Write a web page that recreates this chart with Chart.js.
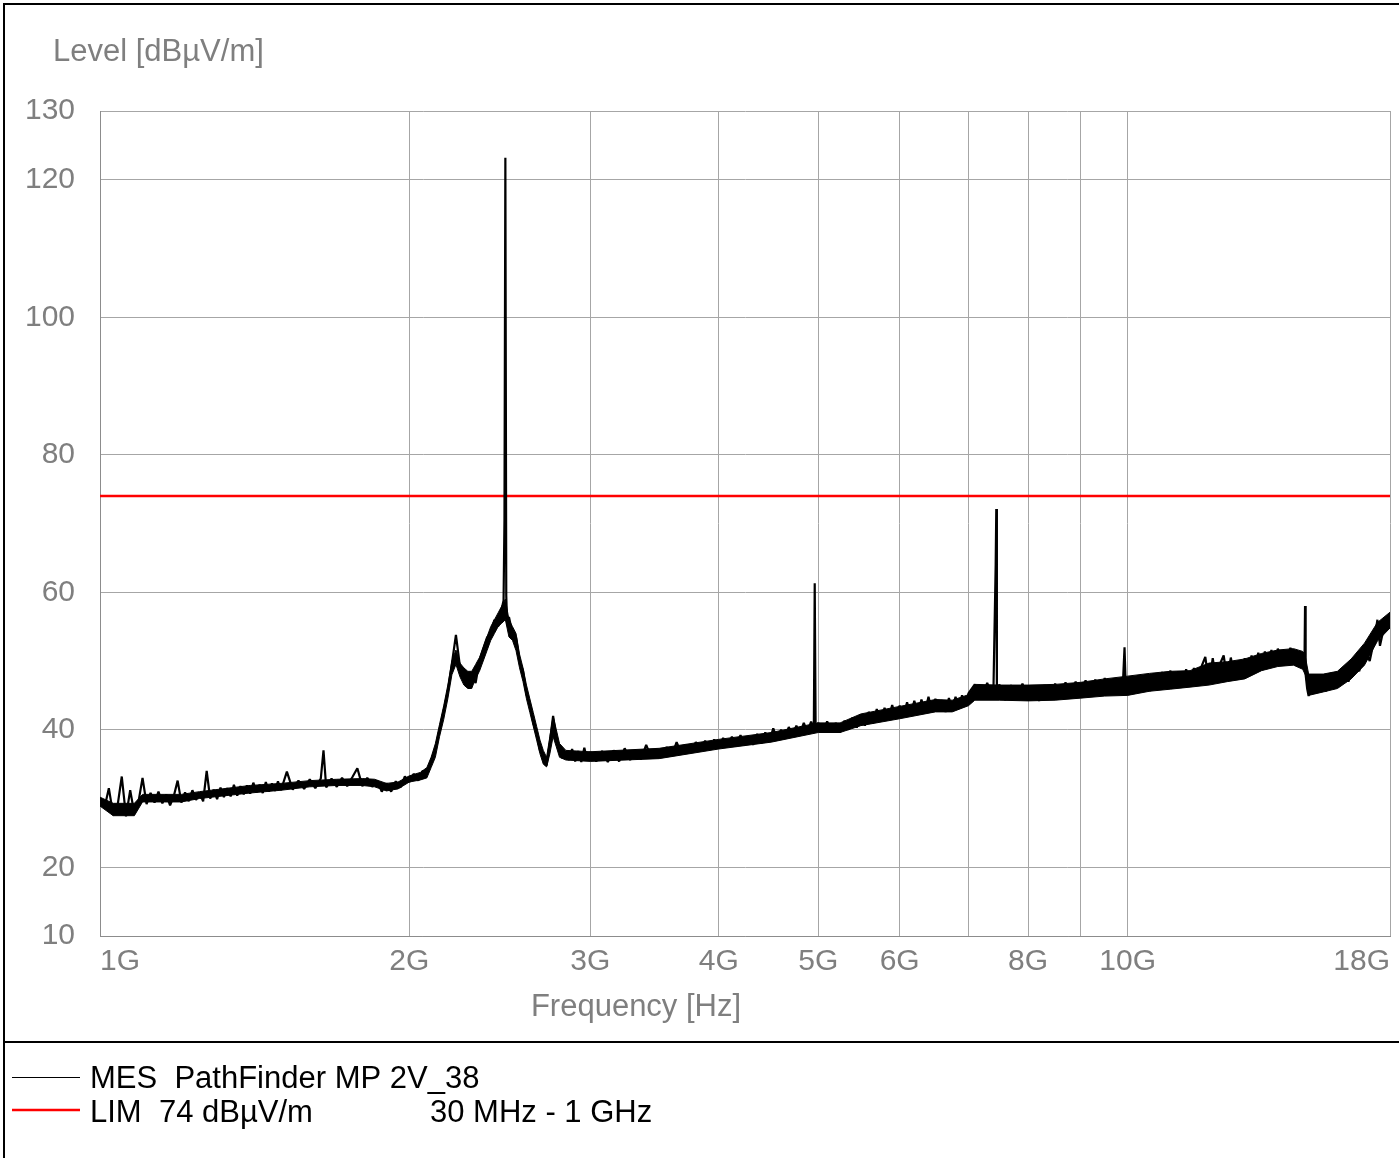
<!DOCTYPE html>
<html>
<head>
<meta charset="utf-8">
<script src="https://cdn.jsdelivr.net/npm/chart.js@4.4.1/dist/chart.umd.min.js"></script>
<style>
  html, body { margin: 0; padding: 0; background: #fff; }
  canvas { display: block; }
</style>
</head>
<body>
<canvas id="emcChart" width="1399" height="1158" style="width:1399px;height:1158px"></canvas>
<script>
const freqSeg1 = [1.00, 1.01, 1.02, 1.03, 1.04, 1.05, 1.06, 1.07, 1.08, 1.09,
  1.10, 1.11, 1.12, 1.13, 1.14, 1.15, 1.16, 1.17, 1.18, 1.19,
  1.20, 1.21, 1.22, 1.23, 1.24, 1.25, 1.26, 1.27, 1.28, 1.29,
  1.30, 1.31, 1.32, 1.33, 1.34, 1.35, 1.36, 1.37, 1.38, 1.39,
  1.40, 1.41, 1.42, 1.43, 1.44, 1.45, 1.46, 1.47, 1.48, 1.49, 1.50];
const levelSeg1 = [29.8, 28.6, 31.5, 27.6, 28.9, 33.2, 27.4, 31.2, 27.8, 29.5,
  33.0, 29.2, 30.8, 29.4, 31.0, 29.3, 30.6, 29.0, 30.4, 32.6,
  29.4, 30.9, 29.6, 31.2, 29.8, 30.8, 29.6, 34.0, 30.0, 31.3,
  29.9, 31.6, 30.2, 31.5, 30.3, 32.0, 30.4, 31.8, 30.6, 31.9,
  30.7, 32.3, 30.9, 32.0, 30.8, 32.4, 31.0, 32.2, 31.1, 32.5, 31.2];

const freqSeg2 = [1.52, 1.54, 1.56, 1.58, 1.60, 1.62, 1.64, 1.65, 1.66, 1.68,
  1.70, 1.72, 1.74, 1.76, 1.78, 1.80, 1.82, 1.84, 1.86, 1.88,
  1.90, 1.92, 1.94, 1.96, 1.98, 2.00];
const levelSeg2 = [33.9, 31.3, 32.6, 31.4, 32.8, 31.5, 32.9, 37.0, 31.6, 32.9,
  31.7, 33.0, 31.8, 33.1, 34.4, 31.8, 33.0, 31.7, 32.6, 31.0,
  32.2, 31.0, 32.5, 31.6, 33.2, 32.4];

const freqSeg3 = [2.02, 2.04, 2.06, 2.08, 2.10, 2.12, 2.14, 2.16, 2.18, 2.20,
  2.22, 2.24, 2.26, 2.28, 2.30, 2.32, 2.34, 2.36, 2.38, 2.40,
  2.42, 2.44, 2.46, 2.47, 2.475, 2.48, 2.485, 2.49, 2.50, 2.52,
  2.54, 2.56, 2.58, 2.60, 2.62, 2.64, 2.66, 2.68, 2.70, 2.72,
  2.74, 2.76, 2.78, 2.80, 2.82, 2.84, 2.86, 2.88, 2.90, 2.92,
  2.94, 2.96, 2.98, 3.00];
const levelSeg3 = [33.6, 32.6, 34.0, 33.8, 35.6, 37.2, 40.0, 42.8, 45.6, 49.6,
  53.8, 49.2, 48.8, 46.2, 47.8, 46.8, 50.0, 51.8, 53.4, 54.2,
  56.0, 55.0, 57.6, 58.8, 70.5, 123.2, 59.5, 55.2, 56.4, 54.0,
  53.4, 50.0, 48.6, 45.2, 43.6, 41.0, 39.4, 37.0, 36.2, 34.8,
  38.2, 42.0, 38.8, 37.6, 35.8, 36.8, 35.6, 37.2, 35.4, 36.9,
  35.3, 37.4, 35.5, 36.8];

const freqSeg4 = [3.04, 3.08, 3.12, 3.16, 3.20, 3.24, 3.28, 3.32, 3.36, 3.40,
  3.44, 3.48, 3.52, 3.56, 3.60, 3.64, 3.68, 3.72, 3.76, 3.80,
  3.84, 3.88, 3.92, 3.96, 4.00, 4.04, 4.08, 4.12, 4.16, 4.20,
  4.24, 4.28, 4.32, 4.36, 4.40, 4.44, 4.48, 4.52, 4.56, 4.60,
  4.64, 4.68, 4.72, 4.76, 4.80, 4.84, 4.88, 4.92, 4.95, 4.96,
  4.97, 5.00];
const levelSeg4 = [35.4, 36.9, 35.3, 37.0, 35.4, 37.3, 35.6, 36.8, 35.7, 37.8,
  35.9, 37.2, 36.0, 37.5, 36.2, 38.2, 36.5, 37.8, 36.7, 38.2,
  36.9, 38.4, 37.1, 38.6, 37.3, 38.8, 37.5, 39.0, 37.6, 39.2,
  37.7, 39.0, 37.8, 39.4, 38.0, 39.6, 38.3, 40.2, 38.6, 40.0,
  38.8, 40.4, 39.1, 40.6, 39.4, 41.0, 39.7, 41.2, 40.0, 61.3,
  40.4, 41.0];

const freqSeg5 = [5.05, 5.10, 5.15, 5.20, 5.25, 5.30, 5.35, 5.40, 5.45, 5.50,
  5.55, 5.60, 5.65, 5.70, 5.75, 5.80, 5.85, 5.90, 5.95, 6.00,
  6.05, 6.10, 6.15, 6.20, 6.25, 6.30, 6.35, 6.40, 6.45, 6.50,
  6.55, 6.60, 6.65, 6.70, 6.75, 6.80, 6.85, 6.90, 6.95, 7.00];
const levelSeg5 = [39.6, 41.2, 39.7, 41.0, 39.6, 41.3, 40.0, 41.8, 40.3, 42.2,
  40.6, 42.6, 40.9, 43.0, 41.2, 43.2, 41.5, 43.6, 41.7, 43.5,
  41.9, 44.0, 42.1, 44.2, 42.3, 44.4, 42.6, 44.8, 42.8, 44.5,
  42.7, 44.3, 42.6, 44.6, 42.9, 44.8, 43.2, 45.0, 43.5, 45.3];

const freqSeg6 = [7.10, 7.20, 7.30, 7.40, 7.44, 7.45, 7.46, 7.50, 7.60, 7.70,
  7.80, 7.90, 8.00, 8.10, 8.20, 8.30, 8.40, 8.50, 8.60, 8.70,
  8.80, 8.90, 9.00, 9.10, 9.20, 9.30, 9.40, 9.50, 9.60, 9.70,
  9.80, 9.90, 9.93, 9.96, 10.00];
const levelSeg6 = [46.6, 44.4, 46.8, 44.5, 64.0, 72.1, 45.0, 46.6, 44.3, 46.5,
  44.4, 46.7, 44.3, 46.3, 44.2, 46.5, 44.4, 46.7, 44.6, 46.9,
  44.8, 47.0, 44.9, 47.2, 45.0, 47.3, 45.2, 47.5, 45.3, 47.4,
  45.4, 47.6, 52.0, 45.5, 47.3];

const freqSeg7 = [10.1, 10.2, 10.3, 10.4, 10.5, 10.6, 10.7, 10.8, 10.9, 11.0,
  11.1, 11.2, 11.3, 11.4, 11.5, 11.6, 11.7, 11.8, 11.9, 12.0,
  12.1, 12.2, 12.3, 12.4, 12.5, 12.6, 12.7, 12.8, 12.9, 13.0,
  13.1, 13.2, 13.3, 13.4, 13.5, 13.6, 13.7, 13.8, 13.9, 14.0];
const levelSeg7 = [45.3, 47.6, 45.5, 48.0, 45.6, 48.2, 45.8, 48.4, 46.0, 48.6,
  46.1, 48.5, 46.2, 48.8, 46.3, 49.0, 46.5, 49.2, 50.6, 46.7,
  50.4, 47.0, 49.6, 50.8, 47.3, 50.5, 47.6, 50.0, 47.9, 50.4,
  48.2, 50.8, 48.6, 51.2, 49.0, 51.4, 49.3, 51.6, 49.4, 51.8];

const freqSeg8 = [14.2, 14.4, 14.6, 14.8, 14.86, 14.88, 14.90, 14.95, 15.0, 15.1,
  15.2, 15.4, 15.6, 15.8, 16.0, 16.2, 16.4, 16.6, 16.8, 17.0,
  17.2, 17.4, 17.5, 17.6, 17.8, 18.0];
const levelSeg8 = [49.5, 51.9, 49.6, 51.3, 49.0, 58.0, 48.0, 46.0, 44.9, 47.6,
  45.3, 47.8, 45.6, 48.3, 46.2, 49.0, 47.0, 50.0, 48.5, 51.8,
  50.0, 53.6, 56.0, 52.2, 55.6, 56.5];

// Dense core of the noisy trace: upper and lower edge
const bandFreq = [1.00, 1.03, 1.08, 1.10, 1.20, 1.25, 1.40, 1.50, 1.60, 1.70,
  1.80, 1.85, 1.90, 1.95, 2.00, 2.05, 2.08, 2.10, 2.12, 2.14,
  2.16, 2.18, 2.20, 2.22, 2.24, 2.26, 2.28, 2.30, 2.32, 2.34,
  2.36, 2.38, 2.40, 2.42, 2.44, 2.46, 2.48, 2.50, 2.52, 2.54,
  2.56, 2.58, 2.60, 2.62, 2.64, 2.66, 2.68, 2.70, 2.72, 2.74,
  2.76, 2.78, 2.80, 2.84, 3.0, 3.5, 4.0, 4.5, 5.0, 5.25,
  5.5, 6.0, 6.5, 6.75, 7.0, 7.1, 7.5, 8.0, 8.5, 9.0,
  9.5, 10, 10.5, 11, 11.5, 12, 12.5, 13, 13.5, 14,
  14.5, 14.8, 14.9, 15.0, 15.5, 16, 16.5, 17, 17.5, 18];
const bandUpper = [30.2, 29.3, 29.3, 30.6, 30.6, 31.0, 31.9, 32.2, 32.6, 32.8,
  32.9, 32.8, 32.2, 32.4, 33.3, 33.8, 34.5, 36.0, 38.0, 40.8,
  43.5, 46.5, 50.0, 51.6, 49.7, 49.0, 48.5, 48.5, 49.5, 50.5,
  52.0, 53.5, 55.0, 56.0, 57.0, 58.0, 59.0, 56.0, 55.0, 54.0,
  51.0, 49.0, 46.5, 44.5, 42.5, 40.5, 38.5, 37.0, 36.0, 39.0,
  42.0, 40.0, 38.0, 37.0, 36.8, 37.3, 38.6, 39.6, 41.0, 41.0,
  42.3, 43.4, 44.4, 44.3, 45.1, 46.6, 46.5, 46.5, 46.6, 46.9,
  47.4, 47.8, 48.2, 48.5, 48.6, 49.7, 49.9, 50.3, 51.1, 51.6,
  51.8, 51.4, 50.4, 48.1, 48.1, 48.5, 50.3, 52.6, 55.6, 57.1];
const bandLower = [28.9, 27.5, 27.5, 29.5, 29.5, 30.0, 30.8, 31.2, 31.7, 31.9,
  31.9, 31.7, 31.1, 31.4, 32.4, 32.7, 33.0, 34.5, 36.0, 39.0,
  41.5, 44.5, 48.0, 49.5, 47.7, 46.5, 46.0, 46.0, 47.5, 48.5,
  50.0, 51.5, 53.0, 54.0, 55.0, 55.5, 56.0, 53.5, 53.0, 51.5,
  49.0, 47.0, 44.5, 42.5, 40.5, 38.5, 36.5, 35.0, 34.6, 36.5,
  39.0, 37.5, 36.0, 35.6, 35.4, 35.8, 37.2, 38.2, 39.6, 39.6,
  40.6, 41.6, 42.6, 42.6, 43.5, 44.3, 44.3, 44.2, 44.3, 44.6,
  44.9, 45.0, 45.6, 45.9, 46.2, 46.5, 47.0, 47.4, 48.6, 49.2,
  49.4, 48.8, 47.9, 45.0, 45.5, 46.0, 47.4, 49.4, 52.9, 54.8];

// Limit line
const limitFreq = [1, 18];
const limitLevel = [74, 74];

// Axis ticks
const xTickValues = [1, 2, 3, 4, 5, 6, 7, 8, 9, 10, 18];
const xTickLabels = ['1G', '2G', '3G', '4G', '5G', '6G', '', '8G', '', '10G', '18G'];
const yTickValues = [10, 20, 40, 60, 80, 100, 120, 130];

const mesFreq = [].concat(freqSeg1, freqSeg2, freqSeg3, freqSeg4, freqSeg5, freqSeg6, freqSeg7, freqSeg8);
const mesLevel = [].concat(levelSeg1, levelSeg2, levelSeg3, levelSeg4, levelSeg5, levelSeg6, levelSeg7, levelSeg8);

const FONT = "'Liberation Sans', Arial, sans-serif";
const GREY_TEXT = '#7f7f7f';

function toPoints(xs, ys) {
    return xs.map((x, i) => ({ x: x, y: ys[i] }));
}

// Frame, titles and legend drawn around the plot
const decorPlugin = {
    id: 'decor',
    afterDraw(chart) {
        const ctx = chart.ctx;
        ctx.save();
        ctx.strokeStyle = '#000';
        ctx.lineWidth = 2;
        ctx.beginPath();
        ctx.moveTo(4, 1158); ctx.lineTo(4, 4); ctx.lineTo(1399, 4);
        ctx.moveTo(4, 1042); ctx.lineTo(1399, 1042);
        ctx.stroke();

        ctx.fillStyle = GREY_TEXT;
        ctx.font = '31px ' + FONT;
        ctx.textBaseline = 'alphabetic';
        ctx.textAlign = 'left';
        ctx.fillText('Level [dBµV/m]', 53, 61);
        ctx.textAlign = 'center';
        ctx.fillText('Frequency [Hz]', 636, 1016);

        // legend
        ctx.lineWidth = 1;
        ctx.strokeStyle = '#000';
        ctx.beginPath(); ctx.moveTo(12, 1077.5); ctx.lineTo(80, 1077.5); ctx.stroke();
        ctx.lineWidth = 2.5;
        ctx.strokeStyle = '#ff0000';
        ctx.beginPath(); ctx.moveTo(12, 1110); ctx.lineTo(80, 1110); ctx.stroke();
        ctx.fillStyle = '#000';
        ctx.textAlign = 'left';
        ctx.fillText(chart.data.datasets[0].label, 90, 1088);
        ctx.fillText(chart.data.datasets[1].label, 90, 1122);
        ctx.fillText('30 MHz - 1 GHz', 430, 1122);
        ctx.restore();
    }
};

function renderChart() {
    const ctx = document.getElementById('emcChart').getContext('2d');
    new Chart(ctx, {
        type: 'line',
        data: {
            datasets: [{
                label: 'MES  PathFinder MP 2V_38',
                data: toPoints(mesFreq, mesLevel),
                borderColor: '#000',
                borderWidth: 2.2,
                borderJoinStyle: 'bevel',
                pointRadius: 0,
                tension: 0
            }, {
                label: 'LIM  74 dBµV/m',
                data: toPoints(limitFreq, limitLevel),
                borderColor: '#ff0000',
                borderWidth: 2.5,
                pointRadius: 0
            }, {
                label: 'band upper',
                data: toPoints(bandFreq, bandUpper),
                borderColor: '#000',
                borderWidth: 1,
                backgroundColor: '#000',
                fill: '+1',
                pointRadius: 0
            }, {
                label: 'band lower',
                data: toPoints(bandFreq, bandLower),
                borderColor: '#000',
                borderWidth: 1,
                pointRadius: 0
            }]
        },
        options: {
            responsive: false,
            animation: false,
            devicePixelRatio: 1,
            layout: { padding: { left: 0, right: 9, top: 111, bottom: 0 } },
            plugins: {
                legend: { display: false },
                tooltip: { enabled: false }
            },
            scales: {
                x: {
                    type: 'logarithmic',
                    min: 1,
                    max: 18,
                    afterBuildTicks: scale => { scale.ticks = xTickValues.map(v => ({ value: v })); },
                    afterFit: scale => { scale.height = 222; },
                    grid: { color: '#a6a6a6', drawTicks: false },
                    border: { color: '#8c8c8c' },
                    ticks: {
                        autoSkip: false,
                        maxRotation: 0,
                        align: 'inner',
                        padding: 8,
                        color: GREY_TEXT,
                        font: { family: FONT, size: 30 },
                        callback: (value, index) => xTickLabels[index]
                    }
                },
                y: {
                    min: 10,
                    max: 130,
                    afterBuildTicks: scale => { scale.ticks = yTickValues.map(v => ({ value: v })); },
                    afterFit: scale => { scale.width = 100; },
                    grid: { color: '#a6a6a6', drawTicks: false },
                    border: { color: '#8c8c8c' },
                    ticks: {
                        padding: 25,
                        color: GREY_TEXT,
                        font: { family: FONT, size: 30 }
                    }
                }
            }
        },
        plugins: [decorPlugin]
    });
}

document.addEventListener('DOMContentLoaded', renderChart);
</script>
</body>
</html>
